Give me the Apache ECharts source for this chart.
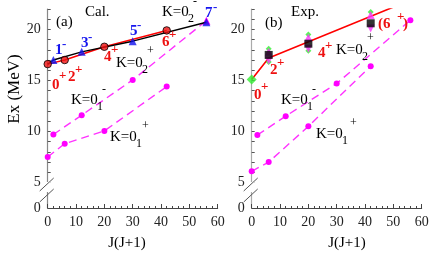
<!DOCTYPE html>
<html><head><meta charset="utf-8">
<script src="https://cdn.jsdelivr.net/npm/echarts@6/dist/echarts.min.js"></script>
<style>html,body{margin:0;padding:0;background:#fff}#c{width:436px;height:256px}</style>
</head><body><div id="c"></div>
<script>
// ---- data ----
var xTicks = [0,10,20,30,40,50,60];
var yTickLabels = [5,10,15,20];
// (a) Cal.
var calPosX = [0,6,20,42];            // K=0_2^+ : 0+,2+,4+,6+
var calPosY = [16.6,17.0,18.3,19.9];
var calNegX = [2,12,30,56];           // K=0_2^- : 1-,3-,5-,7-
var calNegY = [17.0,17.8,18.85,20.7];
var cal01mX = [2,12,30,56];           // K=0_1^-
var cal01mY = [9.7,11.6,15.05,20.85];
var cal01pX = [0,6,20,42];            // K=0_1^+
var cal01pY = [7.5,8.8,10.05,14.4];
// (b) Exp.
var expLineX = [0,6,51];
var expLineY = [15.1,17.2,22.3];
var expSqX = [6,20,42];
var expSqY = [17.5,18.6,20.6];
var expUpX = [6,20,42];
var expUpY = [17.8,19.2,21.4];
var expDnX = [6,20,42];
var expDnY = [16.95,18.1,20.1];
var expGrX = [0,6,6,20,20,42];
var expGrY = [15.1,18.1,16.8,19.5,17.9,21.7];
var exp01mX = [2,12,30,56];
var exp01mY = [9.65,11.5,14.7,20.9];
var exp01pX = [0,6,20,42];
var exp01pY = [6.1,7.0,10.5,16.4];

function pts(xs, ys){ return xs.map(function(x,i){return [x, ys[i]];}); }

var chart = echarts.init(document.getElementById('c'), null, {renderer:'canvas'});
var FONT = 'Liberation Serif';
function xAx(idx){
  return {gridIndex: idx, type:'value', min:0, max:60, interval:10,
    axisLine:{show:true, lineStyle:{color:'#444', width:1}},
    axisTick:{show:true, inside:true, length:4, lineStyle:{color:'#444'}},
    minorTick:{show:true, splitNumber:5, length:2, lineStyle:{color:'#444'}},
    splitLine:{show:false},
    axisLabel:{fontFamily:FONT, fontSize:14, color:'#222', margin:7,
      customValues: xTicks}
  };
}
function yAx(idx, col){
  var ints=[]; for (var v=5; v<=22; v++) ints.push(v);
  return {gridIndex: idx, type:'value', min:2.5, max:22,
    axisLine:{show:true, lineStyle:{color:col, width:1.2}},
    axisTick:{show:true, inside:true, length:3, lineStyle:{color:'#555'}, customValues: ints},
    splitLine:{show:false},
    axisLabel:{fontFamily:FONT, fontSize:14, color:'#222', margin:7,
      customValues:[2.5].concat(yTickLabels),
      formatter:function(v){ return v===2.5 ? '0' : String(v); }}
  };
}
function dashed(xi, xs, ys, lastTri){
  return {type:'line', xAxisIndex:xi, yAxisIndex:xi, data:pts(xs,ys),
    lineStyle:{color:'#ff33ff', width:1.4, type:[8,5]},
    symbol: function(v, p){ return (lastTri && p.dataIndex===xs.length-1) ? 'triangle' : 'circle'; },
    symbolSize: function(v, p){ return (lastTri && p.dataIndex===xs.length-1) ? 8 : 6; },
    itemStyle:{color:'#ff00ff'}, silent:true, z:2};
}
var series = [
  dashed(0, cal01mX, cal01mY, true),
  dashed(0, cal01pX, cal01pY, false),
  {type:'line', xAxisIndex:0, yAxisIndex:0, data:pts(calPosX,calPosY), showSymbol:false,
    lineStyle:{color:'#ff0000', width:1.5}, z:3},
  {type:'line', xAxisIndex:0, yAxisIndex:0, data:[[calPosX[0],calPosY[0]]].concat(pts(calNegX,calNegY)), showSymbol:false,
    lineStyle:{color:'#000', width:1.5}, z:4},
  {type:'scatter', xAxisIndex:0, yAxisIndex:0, data:pts(calNegX,calNegY), symbol:'triangle', symbolSize:8,
    itemStyle:{color:'#1010ee'}, z:5},
  {type:'scatter', xAxisIndex:0, yAxisIndex:0, data:pts(calPosX,calPosY), symbol:'circle', symbolSize:7.5,
    itemStyle:{color:'#ee1111', borderColor:'#000', borderWidth:1}, z:6},
  // (b)
  dashed(1, exp01mX, exp01mY, false),
  dashed(1, exp01pX, exp01pY, false),
  {type:'line', xAxisIndex:1, yAxisIndex:1, data:pts(expLineX,expLineY), showSymbol:false,
    lineStyle:{color:'#ff0000', width:1.6}, z:3},
  {type:'scatter', xAxisIndex:1, yAxisIndex:1, data:pts(expGrX,expGrY), symbol:'diamond',
    symbolSize:function(v,p){return p.dataIndex===0?10:6;}, itemStyle:{color:'#33ee33'}, z:4},
  {type:'scatter', xAxisIndex:1, yAxisIndex:1, data:pts(expUpX,expUpY), symbol:'triangle', symbolSize:8,
    itemStyle:{color:'#ff33ff'}, z:5},
  {type:'scatter', xAxisIndex:1, yAxisIndex:1, data:pts(expDnX,expDnY), symbol:'triangle', symbolRotate:180, symbolSize:8,
    itemStyle:{color:'#ff33ff'}, z:5},
  {type:'scatter', xAxisIndex:1, yAxisIndex:1, data:pts(expSqX,expSqY), symbol:'rect', symbolSize:8,
    itemStyle:{color:'#000'}, z:6}
];

// text helpers
var G = [];
function t(x, y, s, size, color, bold, align){
  G.push({type:'text', x:x, y:y, z:100, style:{text:s, fontFamily:FONT, fontSize:size, fill:color||'#000',
    fontWeight: bold?'bold':'normal', textAlign: align||'left', textVerticalAlign:'middle'}});
}
function K(x, y, sub, sup, supx, supy){
  t(x, y, 'K=0', 15, '#000');
  t(x+26, y+7, sub, 12, '#000');
  t(supx, supy, sup, 12, '#000');
}
function lev(x, y, n, sign, color, supdx, supdy){
  t(x, y, n, 15, color, true);
  t(x+(supdx||7), y+(supdy||-7), sign, 13, color, true);
}
var RED='#ee1111', BLUE='#1515ee';
// panel (a)
t(56, 22, '(a)', 15, '#000');
t(85, 12, 'Cal.', 15, '#000');
K(162, 12, '2', '-', 193, 2);
lev(205, 13, '7', '-', BLUE, 8, -5);
lev(55, 50, '1', '-', BLUE, 7, -5);
lev(81, 43, '3', '-', BLUE, 7, -5);
lev(130, 31, '5', '-', BLUE, 7, -5);
lev(162, 42, '6', '+', RED, 7, -7);
lev(104, 57, '4', '+', RED, 7, -7);
K(116, 63, '2', '+', 147, 51);
lev(52, 85, '0', '+', RED, 7, -9);
lev(68, 77, '2', '+', RED, 7, -7);
K(71, 100, '1', '-', 102, 90);
K(110, 137, '1', '+', 142, 126);
// panel (b)
t(265, 23, '(b)', 15, '#000');
t(291, 12, 'Exp.', 15, '#000');
t(378, 24, '(6', 15, RED, true); t(397, 17, '+', 13, RED, true); t(403, 24, ')', 15, RED, true);
K(336, 50, '2', '+', 367, 38);
lev(318, 53, '4', '+', RED, 7, -7);
lev(270, 70, '2', '+', RED, 7, -7);
lev(254, 95, '0', '+', RED, 7, -8);
K(281, 100, '1', '-', 312, 90);
K(316, 134, '1', '+', 350, 123);
// axis titles
G.push({type:'text', x:15, y:89, rotation:Math.PI/2, z:100,
  style:{text:'Ex (MeV)', fontFamily:FONT, fontSize:17, fill:'#000', textAlign:'center', textVerticalAlign:'middle'}});
t(127, 243, 'J(J+1)', 15, '#000', false, 'center');
t(347, 243, 'J(J+1)', 15, '#000', false, 'center');
// axis break marks
function brk(ax){
  G.push({type:'rect', z:90, shape:{x:ax-3, y:182, width:6, height:10}, style:{fill:'#fff'}});
  G.push({type:'line', z:91, shape:{x1:ax-8, y1:191, x2:ax+6, y2:178}, style:{stroke:'#555', lineWidth:1}});
  G.push({type:'line', z:91, shape:{x1:ax-8, y1:202, x2:ax+6, y2:189}, style:{stroke:'#555', lineWidth:1}});
}
brk(47.7); brk(251.7);

chart.setOption({
  animation:false,
  grid:[{left:47.7, top:9, width:170, height:199},
        {left:251.7, top:9, width:170, height:199}],
  xAxis:[xAx(0), xAx(1)],
  yAxis:[yAx(0,'#888'), yAx(1,'#aaa')],
  series: series,
  graphic: G
});
</script></body></html>
